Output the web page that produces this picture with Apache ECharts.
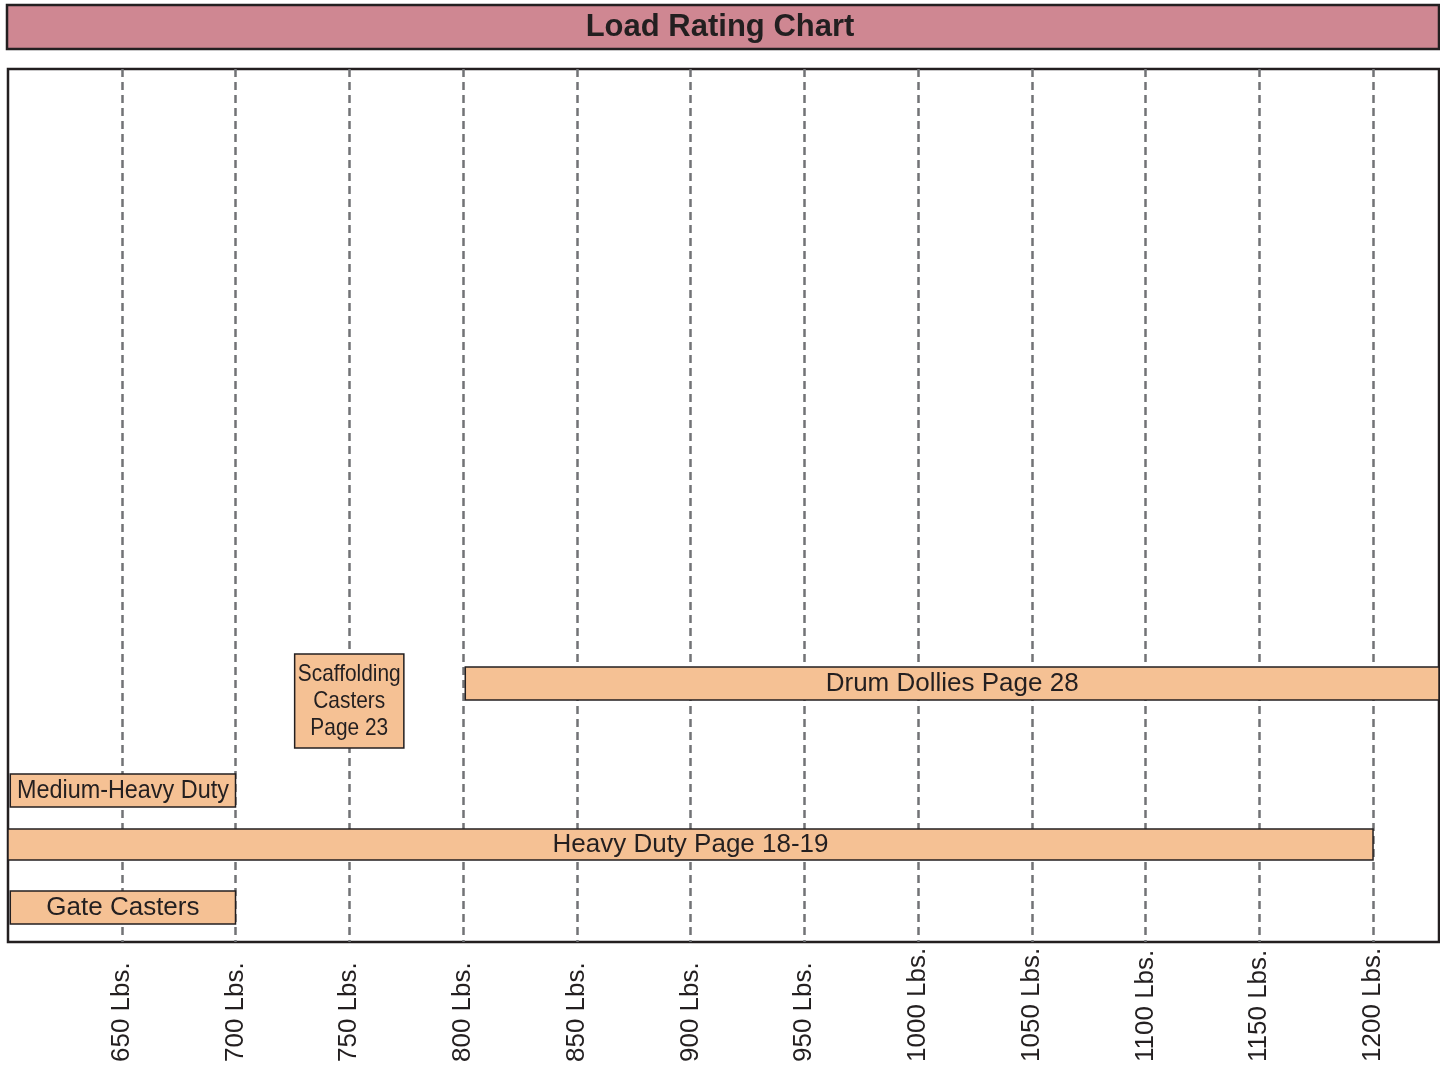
<!DOCTYPE html>
<html>
<head>
<meta charset="utf-8">
<script src="https://cdn.jsdelivr.net/npm/echarts@6/dist/echarts.min.js"></script>
<style>html,body{margin:0;padding:0;background:#fff}#c{width:1440px;height:1067px}</style>
</head>
<body>
<div id="c"></div>
<script>
// ---- data ----
const chartTitle = 'Load Rating Chart';
const productNames = ['Gate Casters', 'Heavy Duty Page 18-19', 'Medium-Heavy Duty', 'Scaffolding\nCasters\nPage 23', 'Drum Dollies Page 28'];
const loadStart = [601, 600, 601, 726, 801];       // lbs
const loadEnd   = [700, 1200, 700, 774, 1229];     // lbs
const rowLow    = [18, 82, 135, 194, 242];         // vertical placement (row units)
const rowHigh   = [51, 113, 168, 288, 275];
const tickUnit  = ' Lbs.';

// ---- styles (kept apart from data) ----
const labelSizes  = [26, 26, 26, 24, 26];
const labelSqueeze = [1, 1, 0.9, 0.87, 1];
const FONT = '"Liberation Sans", Arial, sans-serif';
const INK = '#231f20';

const seriesData = productNames.map((n, i) => [loadStart[i], loadEnd[i], rowLow[i], rowHigh[i], n]);

const chart = echarts.init(document.getElementById('c'), null, {renderer: 'canvas'});
chart.setOption({
  animation: false,
  backgroundColor: '#ffffff',
  textStyle: {fontFamily: FONT},
  title: {
    text: chartTitle,
    left: 'center',
    top: 7,
    textStyle: {fontFamily: FONT, fontSize: 31, fontWeight: 'bold', color: INK}
  },
  graphic: [{
    type: 'rect', z: 0,
    shape: {x: 7, y: 5, width: 1432, height: 44},
    style: {fill: '#cf8792', stroke: INK, lineWidth: 2.5}
  }],
  grid: {
    left: 8, right: 1, top: 69, bottom: 125,
    show: true, borderColor: INK, borderWidth: 2.5, backgroundColor: '#fff'
  },
  xAxis: {
    type: 'value', min: 600, max: 1229, interval: 50,
    axisLine: {show: false},
    axisTick: {show: false},
    splitLine: {show: true, showMinLine: false, showMaxLine: false,
                lineStyle: {color: '#727376', width: 2.5, type: [8, 5]}},
    axisLabel: {
      rotate: 90, align: 'left', margin: 120,
      showMinLabel: false, showMaxLabel: false,
      fontFamily: FONT, fontSize: 26, color: INK,
      formatter: v => v + tickUnit
    }
  },
  yAxis: {type: 'value', min: 0, max: 873, show: false},
  series: [{
    type: 'custom',
    data: seriesData,
    encode: {x: [0, 1], y: [2, 3]},
    renderItem: function (params, api) {
      const p0 = api.coord([api.value(0), api.value(3)]);
      const p1 = api.coord([api.value(1), api.value(2)]);
      const x = p0[0], y = p0[1], w = p1[0] - p0[0], h = p1[1] - p0[1];
      const i = params.dataIndex;
      return {
        type: 'group',
        children: [
          {type: 'rect', shape: {x: x, y: y, width: w, height: h},
           style: {fill: '#f5c194', stroke: INK, lineWidth: 1.5}},
          {type: 'text', x: x + w / 2, y: y + h / 2, scaleX: labelSqueeze[i], scaleY: 1,
           style: {text: productNames[i], x: 0, y: 0,
                   align: 'center', verticalAlign: 'middle',
                   fontFamily: FONT, fontSize: labelSizes[i], lineHeight: 27, fill: INK}}
        ]
      };
    }
  }]
});
</script>
</body>
</html>
